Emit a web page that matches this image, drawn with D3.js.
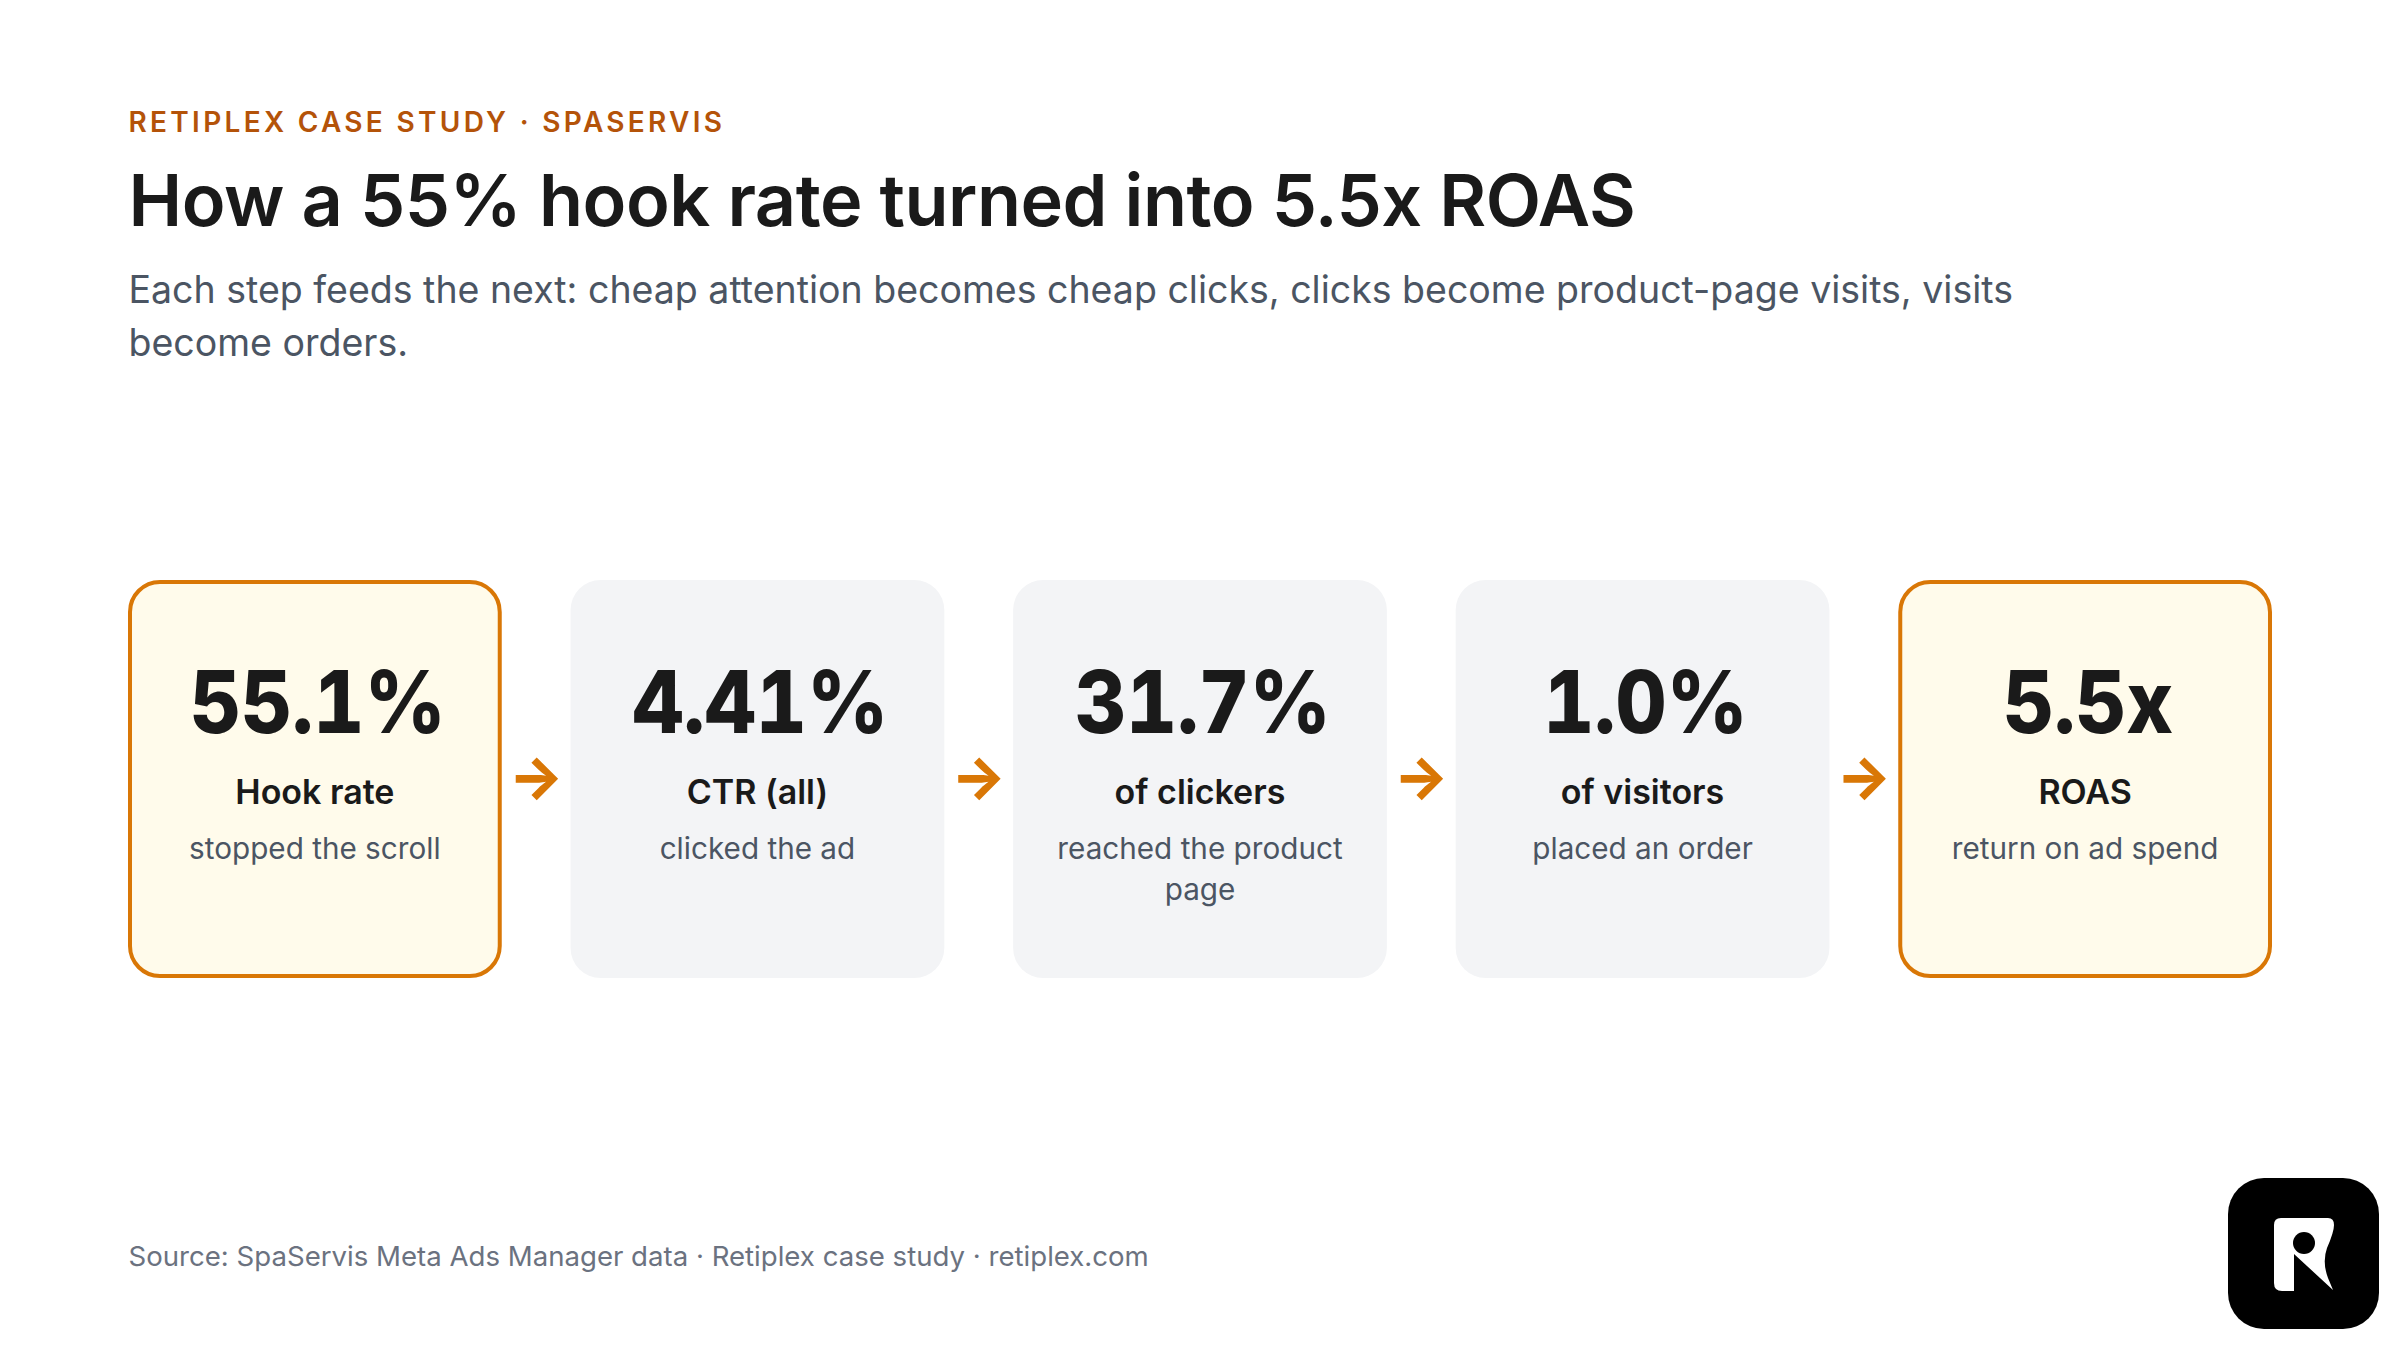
<!DOCTYPE html>
<html>
<head>
<meta charset="utf-8">
<script src="https://cdn.jsdelivr.net/npm/d3@7"></script>
<style>
html, body { margin: 0; padding: 0; background: #fff; }
svg { display: block; }
text { font-family: Inter, "Noto Sans", sans-serif; }
.value { font-variant-numeric: tabular-nums; }
</style>
</head>
<body>
<div id="chart"></div>
<script>
const eyebrow = "RETIPLEX CASE STUDY · SPASERVIS";
const title = "How a 55% hook rate turned into 5.5x ROAS";
const subtitleLines = [
    "Each step feeds the next: cheap attention becomes cheap clicks, clicks become product-page visits, visits",
    "become orders."
];
const source = "Source: SpaServis Meta Ads Manager data · Retiplex case study · retiplex.com";

const steps = ["step1", "step2", "step3", "step4", "step5"];
const values = ["55.1%", "4.41%", "31.7%", "1.0%", "5.5x"];
const labels = ["Hook rate", "CTR (all)", "of clickers", "of visitors", "ROAS"];
const notes = [
    ["stopped the scroll"],
    ["clicked the ad"],
    ["reached the product", "page"],
    ["placed an order"],
    ["return on ad spend"]
];
const highlighted = [true, false, false, false, true];

const width = 2400;
const height = 1350;

const svg = d3.select("#chart")
    .append("svg")
    .attr("width", width)
    .attr("height", height);

// header
svg.append("text")
    .attr("x", 128.5).attr("y", 132)
    .attr("font-size", 28).attr("font-weight", 600)
    .attr("letter-spacing", 3.3)
    .attr("fill", "#b45309")
    .text(eyebrow);

svg.append("text")
    .attr("x", 128.5).attr("y", 226)
    .attr("font-size", 72).attr("font-weight", 600)
    .attr("letter-spacing", -0.5)
    .attr("fill", "#1a1a1a")
    .text(title);

svg.selectAll("text.subtitle")
    .data(subtitleLines)
    .enter()
    .append("text")
    .attr("class", "subtitle")
    .attr("x", 128.5)
    .attr("y", (d, i) => 303 + i * 53)
    .attr("font-size", 37.5)
    .attr("fill", "#4b5563")
    .text(d => d);

// cards
const x = d3.scaleBand()
    .domain(steps)
    .range([128, 2272])
    .paddingInner(0.1555);

const cardTop = 580;
const cardHeight = 398;

const cards = svg.selectAll("g.card")
    .data(steps)
    .enter()
    .append("g")
    .attr("class", "card")
    .attr("transform", d => `translate(${x(d)},${cardTop})`);

cards.append("rect")
    .attr("x", (d, i) => highlighted[i] ? 2 : 0)
    .attr("y", (d, i) => highlighted[i] ? 2 : 0)
    .attr("width", (d, i) => x.bandwidth() - (highlighted[i] ? 4 : 0))
    .attr("height", (d, i) => cardHeight - (highlighted[i] ? 4 : 0))
    .attr("rx", 30)
    .attr("fill", (d, i) => highlighted[i] ? "#fffbeb" : "#f3f4f6")
    .attr("stroke", (d, i) => highlighted[i] ? "#d97706" : "none")
    .attr("stroke-width", 4);

// big numbers, squeezed a little to get the narrower digits
cards.append("text")
    .attr("class", "value")
    .attr("transform", `translate(${x.bandwidth() / 2 + 3},153) scale(0.92,1)`)
    .attr("text-anchor", "middle")
    .attr("font-size", 86)
    .attr("font-weight", 800)
    .attr("fill", "#1a1a1a")
    .text((d, i) => values[i]);

cards.append("text")
    .attr("x", x.bandwidth() / 2)
    .attr("y", 224)
    .attr("text-anchor", "middle")
    .attr("font-size", 34)
    .attr("font-weight", 600)
    .attr("fill", "#1a1a1a")
    .text((d, i) => labels[i]);

cards.each(function(d, i) {
    d3.select(this).selectAll("text.note")
        .data(notes[i])
        .enter()
        .append("text")
        .attr("class", "note")
        .attr("x", x.bandwidth() / 2)
        .attr("y", (n, j) => 279 + j * 41)
        .attr("text-anchor", "middle")
        .attr("font-size", 29.7)
        .attr("fill", "#4b5563")
        .text(n => n);
});

// arrows between the cards
svg.selectAll("text.arrow")
    .data(steps.slice(0, -1))
    .enter()
    .append("text")
    .attr("class", "arrow")
    .attr("x", d => x(d) + x.bandwidth() + x.step() * x.paddingInner() / 2)
    .attr("y", cardTop + cardHeight / 2 + 18)
    .attr("text-anchor", "middle")
    .attr("font-size", 58)
    .attr("font-weight", 800)
    .attr("fill", "#d97706")
    .text("→");

// footer
svg.append("text")
    .attr("x", 128.5).attr("y", 1266)
    .attr("font-size", 27.6)
    .attr("fill", "#6b7280")
    .text(source);

// logo
const logo = svg.append("g")
    .attr("transform", "translate(2228,1178)");

logo.append("rect")
    .attr("width", 151).attr("height", 151)
    .attr("rx", 36)
    .attr("fill", "#000");

logo.append("path")
    .attr("transform", "translate(-28,-28)")
    .attr("d", "M74 75Q74 68 81 68L128 68Q134 68 134 75Q134 82 127 98Q122 112 128 128L133 140L94 104L94 141L82 141Q74 141 74 133Z")
    .attr("fill", "#fff");

logo.append("circle")
    .attr("cx", 76).attr("cy", 65)
    .attr("r", 11)
    .attr("fill", "#000");
</script>
</body>
</html>
